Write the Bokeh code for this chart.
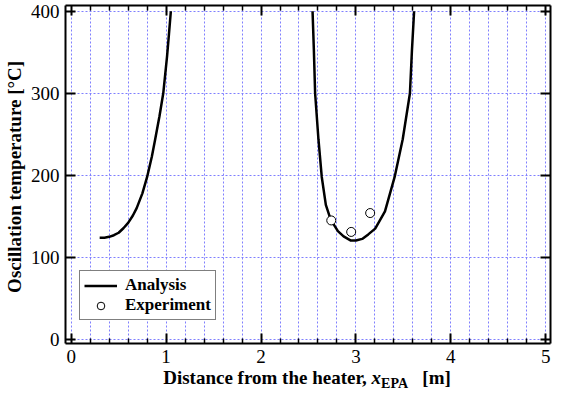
from bokeh.plotting import figure
from bokeh.layouts import column
from bokeh.models import (Range1d, LinearAxis, FixedTicker, Legend, LegendItem, Div,
                          CustomLabelingPolicy)
from bokeh.embed import file_html
from bokeh.resources import INLINE

# ---- data ----
left_x = [0.30, 0.35, 0.40, 0.45, 0.50, 0.55, 0.60, 0.65, 0.69, 0.75, 0.80, 0.85, 0.885, 0.93, 0.97, 1.01, 1.03, 1.05]
left_t = [124, 124, 125, 127, 130, 135.5, 142, 151, 160, 178, 198, 223, 244, 272, 300, 345, 372, 400]
right_x = [2.543, 2.557, 2.57, 2.605, 2.64, 2.683, 2.734, 2.81, 2.87, 2.947, 3.00, 3.066, 3.13, 3.203, 3.306, 3.408, 3.493, 3.569, 3.59, 3.613]
right_t = [400, 352, 300, 244, 198, 164, 146, 132, 125.5, 120.5, 120.5, 122.5, 128, 135, 156, 198, 244, 300, 352, 400]
exp_x = [2.74, 2.95, 3.15]
exp_t = [145, 131, 154]
x_ticks = [0, 1, 2, 3, 4, 5]
x_minor = [0.2, 0.4, 0.6, 0.8, 1.2, 1.4, 1.6, 1.8, 2.2, 2.4, 2.6, 2.8,
           3.2, 3.4, 3.6, 3.8, 4.2, 4.4, 4.6, 4.8]
y_ticks = [0, 100, 200, 300, 400]

FONT = "Liberation Serif"
GRID_C = "#7f7fff"
W, H = 555, 369
BL, BR, BT, BB = 62, 3, 5, 26
DIV_H = 20

p = figure(width=W, height=H, output_backend="svg", toolbar_location=None,
           x_range=Range1d(-0.06, 5.05), y_range=Range1d(-5, 407),
           min_border_left=BL, min_border_right=BR, min_border_top=BT, min_border_bottom=BB,
           margin=0)
p.outline_line_color = None
p.background_fill_color = "white"
p.border_fill_color = "white"

xt = FixedTicker(ticks=x_ticks, minor_ticks=x_minor)
yt = FixedTicker(ticks=y_ticks, minor_ticks=[])

def style_axis(ax, show_labels):
    ax.axis_line_width = 2
    ax.axis_line_color = "black"
    ax.major_tick_in = 10
    ax.major_tick_out = 0
    ax.major_tick_line_width = 2
    ax.major_tick_line_color = "black"
    ax.minor_tick_in = 5
    ax.minor_tick_out = 0
    ax.minor_tick_line_width = 1.5
    ax.minor_tick_line_color = "black"
    ax.major_label_text_font = FONT
    ax.major_label_text_font_style = "normal"
    ax.major_label_text_color = "black"
    if show_labels:
        ax.major_label_text_font_size = "19px"
    else:
        ax.major_label_text_font_size = "1px"
        ax.major_label_standoff = 0
        ax.major_label_policy = CustomLabelingPolicy(
            code="const a = [...indices]; for (const i of a) indices.unset(i); return indices")

xa = p.xaxis[0]
xa.ticker = xt
style_axis(xa, True)
xa.major_label_standoff = 6

ya = p.yaxis[0]
ya.ticker = yt
style_axis(ya, True)
ya.minor_tick_line_color = None
ya.major_label_standoff = 6
ya.axis_label = "Oscillation temperature  [°C]"
ya.axis_label_text_font = FONT
ya.axis_label_text_font_style = "bold"
ya.axis_label_text_font_size = "19px"
ya.axis_label_text_color = "black"
ya.axis_label_standoff = 3

top = LinearAxis(ticker=xt)
style_axis(top, False)
p.add_layout(top, "above")
right = LinearAxis(ticker=yt)
style_axis(right, False)
right.minor_tick_line_color = None
p.add_layout(right, "right")

xg = p.xgrid[0]
xg.ticker = xt
xg.grid_line_color = GRID_C
xg.grid_line_dash = "2 2"
xg.grid_line_width = 1
xg.minor_grid_line_color = GRID_C
xg.minor_grid_line_dash = "2 2"
xg.minor_grid_line_width = 1
yg = p.ygrid[0]
yg.ticker = yt
yg.grid_line_color = GRID_C
yg.grid_line_dash = "2 2"
yg.grid_line_width = 1

l1 = p.line(left_x, left_t, line_color="black", line_width=2.5)
l2 = p.line(right_x, right_t, line_color="black", line_width=2.5)
c = p.scatter(exp_x, exp_t, marker="circle", size=9, fill_color="white",
              line_color="black", line_width=1)

legend = Legend(items=[LegendItem(label="Analysis", renderers=[l1]),
                       LegendItem(label="Experiment", renderers=[c])],
                location=(14, 23))
legend.border_line_color = "black"
legend.border_line_width = 1
legend.background_fill_color = "white"
legend.background_fill_alpha = 1
legend.label_text_font = FONT
legend.label_text_font_style = "bold"
legend.label_text_font_size = "17px"
legend.label_text_color = "black"
legend.glyph_width = 33
legend.glyph_height = 19
legend.label_height = 19
legend.label_standoff = 8
legend.padding = 4
legend.spacing = 0
legend.margin = 0
p.add_layout(legend)

xlabel = Div(
    text=('<b>Distance from the heater, <i>x</i>'
          '<span style="font-size:14px; position:relative; top:4px">EPA</span>'
          '&nbsp;&nbsp;&nbsp;[m]</b>'),
    width=W - BL - BR, height=DIV_H, margin=(0, BR, 0, BL),
    styles={"font-family": FONT, "font-size": "19px", "text-align": "center",
            "color": "black", "line-height": "18px", "white-space": "nowrap"})

layout = column(p, xlabel, spacing=0, margin=0)
open("out.html", "w").write(file_html(layout, INLINE))
